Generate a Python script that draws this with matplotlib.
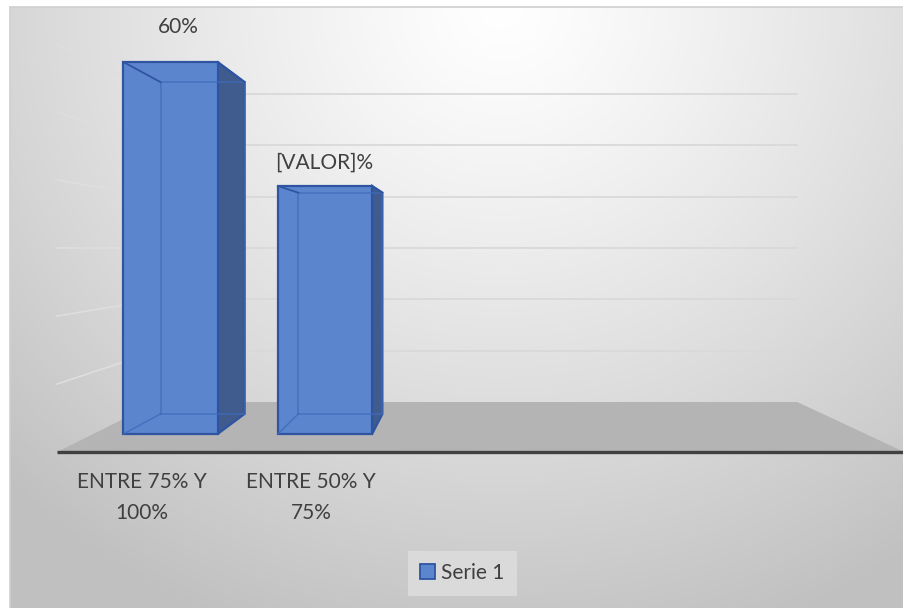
import numpy as np
import matplotlib
matplotlib.use('Agg')
import matplotlib.pyplot as plt
from matplotlib.patches import Polygon, Patch

####################################
# Data
####################################

categories = ['ENTRE 75% Y\n100%', 'ENTRE 50% Y\n75%']
values = [60, 40]
value_labels = ['60%', '[VALOR]%']
grid_levels = [10, 20, 30, 40, 50, 60]
series_name = 'Serie 1'

####################################
# Look & 3D fake-perspective config
####################################

N_SLOTS = 5          # category slots on the floor (only 2 used)
BAR_W = 0.61

VX, VY = 1.92, 30.0  # vanishing point (data units)
K_BACK = 0.892       # bar back face depth
K_FLOOR = 1.097      # floor front edge
K_WALL = 0.828       # back wall

FRONT_C = '#5b86cd'
SIDE_C = '#405b8e'
EDGE_C = '#2f55a2'
INNER_C = '#3f6bbb'
GRID_C = '#d9d9d9'
TEXT_C = '#404040'
FLOOR_C = '#b4b4b4'
FS = 15

plt.rcParams['font.family'] = ['Lato', 'DejaVu Sans']


def proj(x, y, k):
    return VX + k * (np.asarray(x, float) - VX), VY + k * (np.asarray(y, float) - VY)


W, H = 904, 608
fig = plt.figure(figsize=(W / 100, H / 100), dpi=100)
fig.patch.set_facecolor('white')

# background gradient of chart area
bg = fig.add_axes([10 / W, 0, (W - 10) / W, (H - 7) / H])
yy, xx = np.mgrid[0:1:300j, 0:1:450j]
r = np.sqrt(((xx - 0.55) / 0.75) ** 2 + ((yy - 0.0) / 1.05) ** 2)
g = 1 - 0.23 * np.clip(r, 0, 1.05) ** 1.2
bg.imshow(np.dstack([g, g, g]), aspect='auto', extent=[0, 1, 0, 1], origin='upper')
bg.set_xlim(0, 1)
bg.set_ylim(0, 1)
bg.set_xticks([])
bg.set_yticks([])
for s in ['right', 'bottom']:
    bg.spines[s].set_visible(False)
for s in ['top', 'left']:
    bg.spines[s].set_color('#cfcfcf')
    bg.spines[s].set_linewidth(1.2)

# main axes mapped so that front plane of bars: 154.5 px / category, 6.2 px / %
ax = fig.add_axes([0, 0, 1, 1])
ax.patch.set_alpha(0)
ax.set_xlim((0 - 170.5) / 154.5, (W - 170.5) / 154.5)
ax.set_ylim((434 - H) / 6.2, 434 / 6.2)
ax.axis('off')

x_lo, x_hi = -0.5, N_SLOTS - 0.5

# floor
fx, fy = proj([x_lo, x_hi, x_hi, x_lo], [0, 0, 0, 0], np.array([K_FLOOR, K_FLOOR, K_WALL, K_WALL]))
ax.add_patch(Polygon(np.c_[fx, fy], closed=True, facecolor=FLOOR_C, edgecolor='none', zorder=1))

# back wall gridlines + left side wall
for lv in grid_levels:
    gx, gy = proj([x_lo, x_hi], [lv, lv], K_WALL)
    ax.plot(gx, gy, color=GRID_C, lw=1.3, zorder=2)
    sx, sy = proj([x_lo, x_lo], [lv, lv], np.array([K_FLOOR, K_WALL]))
    ax.plot(sx, sy, color='#dedede', lw=1.2, zorder=2)

# category axis line (floor front edge)
ax_x, ax_y = proj([x_lo, x_hi], [0, 0], K_FLOOR)
ax.plot(ax_x, ax_y, color=TEXT_C, lw=2.4, zorder=3, solid_capstyle='butt')

# bars
xs = np.arange(len(values))
bars = ax.bar(xs, values, width=BAR_W, color=FRONT_C, edgecolor=EDGE_C, linewidth=1.6, zorder=6)
for b, v in zip(bars, values):
    x0, x1 = b.get_x(), b.get_x() + b.get_width()
    # back face corners
    bx, by = proj([x0, x1, x1, x0], [0, 0, v, v], K_BACK)
    # right side face
    side = np.c_[[x1, bx[1], bx[2], x1], [0, by[1], by[2], v]]
    ax.add_patch(Polygon(side, closed=True, facecolor=SIDE_C, edgecolor=EDGE_C, lw=1.6, zorder=5))
    # inner edges seen through the transparent front
    ax.plot([bx[0], bx[1], bx[2], bx[3], bx[0]], [by[0], by[1], by[2], by[3], by[0]],
            color=INNER_C, lw=1.1, alpha=0.8, zorder=7)
    ax.plot([x0, bx[0]], [0, by[0]], color=INNER_C, lw=1.1, alpha=0.8, zorder=7)
    ax.plot([x0, bx[3]], [v, by[3]], color=EDGE_C, lw=1.3, zorder=7)
    ax.plot([x1, bx[2]], [v, by[2]], color=EDGE_C, lw=1.3, zorder=7)

# value labels
for x, v, lab in zip(xs, values, value_labels):
    lx, _ = proj(x, v, (1 + K_BACK) / 2)
    ax.annotate(lab, (lx, v * 1.094), xytext=(-6, 0), textcoords='offset points',
                ha='center', va='center', fontsize=FS, color=TEXT_C, zorder=8)

# category labels at floor front
for x, lab in zip(xs, categories):
    lx, _ = proj(x, 0, K_FLOOR)
    ax.text(lx, -10.3, lab, ha='center', va='center', fontsize=FS, color=TEXT_C,
            linespacing=1.68, zorder=8)

# legend
leg = fig.legend(handles=[Patch(facecolor=FRONT_C, edgecolor=EDGE_C, lw=1.3, label=series_name)],
                 loc='center', bbox_to_anchor=(462.5 / W, 1 - 573 / H), frameon=True,
                 fancybox=False, handlelength=0.7, handleheight=0.7, handletextpad=0.3,
                 borderpad=0.6, prop={'size': FS})
leg.get_frame().set_facecolor('#dadada')
leg.get_frame().set_edgecolor('none')
leg.get_frame().set_alpha(1)
for t in leg.get_texts():
    t.set_color(TEXT_C)

fig.savefig('out.png', dpi=100)
